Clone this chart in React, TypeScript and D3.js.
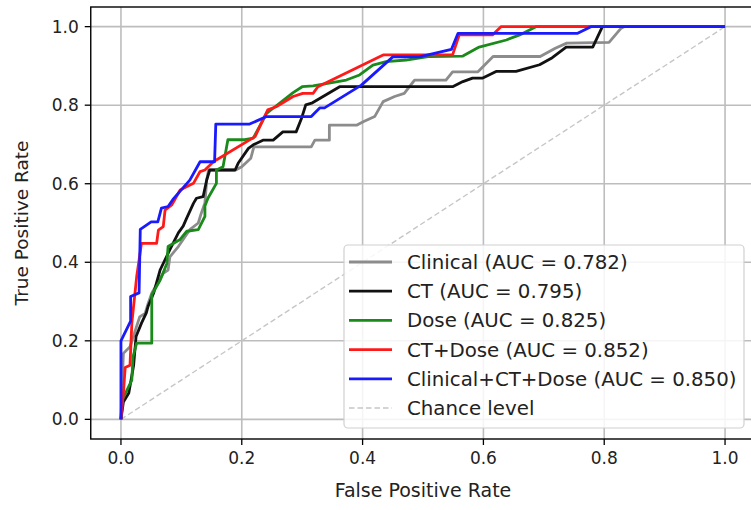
import React from 'react';
import * as d3 from 'd3';

// ROC curves
const clinicalFpr = [0, 0.002, 0.004, 0.015, 0.031, 0.040, 0.045, 0.051, 0.070, 0.078, 0.081, 0.095, 0.114, 0.128, 0.133, 0.139, 0.142, 0.145, 0.190, 0.200, 0.215, 0.220, 0.315, 0.321, 0.345, 0.345, 0.390, 0.401, 0.420, 0.434, 0.453, 0.469, 0.486, 0.538, 0.549, 0.591, 0.616, 0.694, 0.719, 0.738, 0.808, 0.828, 0.833, 1.0];
const clinicalTpr = [0, 0.09, 0.168, 0.185, 0.261, 0.270, 0.295, 0.321, 0.372, 0.380, 0.414, 0.440, 0.483, 0.500, 0.525, 0.551, 0.610, 0.635, 0.635, 0.643, 0.665, 0.694, 0.694, 0.711, 0.711, 0.749, 0.749, 0.758, 0.771, 0.809, 0.822, 0.830, 0.864, 0.864, 0.885, 0.885, 0.924, 0.924, 0.945, 0.958, 0.960, 0.996, 1.0, 1.0];

const ctFpr = [0, 0.004, 0.013, 0.021, 0.025, 0.034, 0.042, 0.045, 0.054, 0.065, 0.081, 0.095, 0.103, 0.109, 0.120, 0.125, 0.136, 0.142, 0.147, 0.189, 0.194, 0.211, 0.219, 0.235, 0.252, 0.268, 0.290, 0.299, 0.306, 0.317, 0.362, 0.549, 0.566, 0.582, 0.599, 0.621, 0.654, 0.693, 0.714, 0.737, 0.781, 0.797, 1.0];
const ctTpr = [0, 0.044, 0.067, 0.138, 0.211, 0.245, 0.271, 0.288, 0.321, 0.381, 0.432, 0.475, 0.492, 0.513, 0.550, 0.563, 0.567, 0.610, 0.635, 0.635, 0.652, 0.690, 0.699, 0.711, 0.711, 0.732, 0.732, 0.767, 0.801, 0.806, 0.847, 0.847, 0.860, 0.869, 0.869, 0.886, 0.886, 0.903, 0.921, 0.948, 0.948, 1.0, 1.0];

const doseFpr = [0, 0.002, 0.018, 0.020, 0.026, 0.051, 0.051, 0.065, 0.076, 0.078, 0.098, 0.109, 0.128, 0.139, 0.139, 0.144, 0.158, 0.158, 0.169, 0.177, 0.205, 0.219, 0.241, 0.255, 0.285, 0.300, 0.318, 0.373, 0.395, 0.417, 0.439, 0.472, 0.511, 0.566, 0.593, 0.638, 0.660, 0.687, 1.0];
const doseTpr = [0, 0.049, 0.100, 0.160, 0.194, 0.194, 0.317, 0.355, 0.397, 0.440, 0.458, 0.479, 0.483, 0.517, 0.543, 0.563, 0.601, 0.635, 0.643, 0.712, 0.712, 0.716, 0.779, 0.796, 0.832, 0.847, 0.849, 0.864, 0.877, 0.902, 0.911, 0.915, 0.924, 0.925, 0.948, 0.966, 0.979, 1.0, 1.0];

const ctDoseFpr = [0, 0.004, 0.007, 0.015, 0.018, 0.026, 0.034, 0.059, 0.062, 0.070, 0.073, 0.084, 0.098, 0.120, 0.131, 0.139, 0.153, 0.222, 0.243, 0.257, 0.285, 0.301, 0.318, 0.326, 0.434, 0.549, 0.560, 0.615, 0.629, 1.0];
const ctDoseTpr = [0, 0.066, 0.132, 0.138, 0.245, 0.363, 0.448, 0.448, 0.482, 0.491, 0.533, 0.546, 0.584, 0.601, 0.631, 0.635, 0.656, 0.720, 0.788, 0.796, 0.822, 0.830, 0.830, 0.847, 0.928, 0.928, 0.979, 0.979, 1.0, 1.0];

const allFpr = [0, 0, 0.016, 0.016, 0.030, 0.032, 0.050, 0.061, 0.067, 0.078, 0.086, 0.114, 0.131, 0.155, 0.157, 0.213, 0.241, 0.315, 0.329, 0.337, 0.398, 0.450, 0.494, 0.547, 0.558, 0.756, 0.778, 1.0];
const allTpr = [0, 0.20, 0.25, 0.313, 0.322, 0.484, 0.503, 0.503, 0.538, 0.542, 0.56, 0.609, 0.656, 0.656, 0.752, 0.752, 0.771, 0.771, 0.793, 0.793, 0.851, 0.923, 0.923, 0.942, 0.983, 0.983, 1.0, 1.0];

const seriesNames = ['Clinical', 'CT', 'Dose', 'CT+Dose', 'Clinical+CT+Dose'];
const seriesAuc = ['0.782', '0.795', '0.825', '0.852', '0.850'];
const seriesColors = ['#8c8c8c', '#111111', '#1a8a1a', '#ff1a1a', '#1a1aff'];
const seriesFpr = [clinicalFpr, ctFpr, doseFpr, ctDoseFpr, allFpr];
const seriesTpr = [clinicalTpr, ctTpr, doseTpr, ctDoseTpr, allTpr];

const ticks = [0, 0.2, 0.4, 0.6, 0.8, 1.0];

const W = 751;
const H = 510;
const FONT = '"DejaVu Sans", sans-serif';

export default function App() {
  const x = d3.scaleLinear().domain([-0.05, 1.05]).range([90.75, 755.25]);
  const y = d3.scaleLinear().domain([-0.05, 1.05]).range([439, 7]);

  const line = d3.line<[number, number]>()
    .x(d => x(d[0]))
    .y(d => y(d[1]));

  const x0 = x(-0.05);
  const x1 = x(1.05);
  const yTop = y(1.05);
  const yBot = y(-0.05);

  // legend layout
  const lgX = 344, lgY = 245, lgW = 400, lgH = 183;
  const rowY = (i: number) => 262 + i * 29.2;
  const legendRows = seriesNames.map((n, i) => ({
    label: `${n} (AUC = ${seriesAuc[i]})`,
    color: seriesColors[i],
  }));

  return (
    <div style={{ position: 'fixed', left: 0, top: 0, background: '#fff' }}>
      <svg width={W} height={H} style={{ display: 'block' }} fontFamily={FONT}>
        <rect width={W} height={H} fill="#fff" />
        {/* grid */}
        {ticks.map(t => (
          <g key={'g' + t}>
            <line x1={x(t)} x2={x(t)} y1={yTop} y2={yBot} stroke="#bdbdbd" strokeWidth={1.6} />
            <line x1={x0} x2={x1} y1={y(t)} y2={y(t)} stroke="#bdbdbd" strokeWidth={1.6} />
          </g>
        ))}
        {/* chance level */}
        <line x1={x(0)} y1={y(0)} x2={x(1)} y2={y(1)} stroke="#c6c6c6" strokeWidth={1.4} strokeDasharray="5.5,3" />
        {/* curves */}
        {seriesFpr.map((f, i) => (
          <path
            key={seriesNames[i]}
            d={line(f.map((v, j) => [v, seriesTpr[i][j]] as [number, number])) || ''}
            fill="none"
            stroke={seriesColors[i]}
            strokeWidth={2.8}
            strokeLinejoin="round"
          />
        ))}
        {/* spines */}
        <rect x={x0} y={yTop} width={x1 - x0} height={yBot - yTop} fill="none" stroke="#000" strokeWidth={1.4} />
        {/* x ticks */}
        {ticks.map(t => (
          <g key={'xt' + t}>
            <line x1={x(t)} x2={x(t)} y1={yBot} y2={yBot + 6} stroke="#000" strokeWidth={1.3} />
            <text x={x(t)} y={yBot + 25} textAnchor="middle" fontSize={17} fill="#222">{t.toFixed(1)}</text>
          </g>
        ))}
        {/* y ticks */}
        {ticks.map(t => (
          <g key={'yt' + t}>
            <line x1={x0 - 6} x2={x0} y1={y(t)} y2={y(t)} stroke="#000" strokeWidth={1.3} />
            <text x={x0 - 12} y={y(t)} dy="0.35em" textAnchor="end" fontSize={17} fill="#222">{t.toFixed(1)}</text>
          </g>
        ))}
        <text x={(x(0) + x(1)) / 2} y={497} textAnchor="middle" fontSize={19} fill="#222">False Positive Rate</text>
        <text transform={`translate(22,${(yTop + yBot) / 2}) rotate(-90)`} dy="0.35em" textAnchor="middle" fontSize={18.5} fill="#222">True Positive Rate</text>
        {/* legend */}
        <rect x={lgX} y={lgY} width={lgW} height={lgH} rx={4} fill="#fff" fillOpacity={0.85} stroke="#d0d0d0" strokeWidth={1.2} />
        {legendRows.map((r, i) => (
          <g key={r.label}>
            <line x1={349} x2={392} y1={rowY(i)} y2={rowY(i)} stroke={r.color} strokeWidth={2.8} />
            <text x={407} y={rowY(i)} dy="0.35em" fontSize={19.8} fill="#222">{r.label}</text>
          </g>
        ))}
        <line x1={349} x2={392} y1={rowY(5)} y2={rowY(5)} stroke="#c6c6c6" strokeWidth={1.4} strokeDasharray="5.5,3" />
        <text x={407} y={rowY(5)} dy="0.35em" fontSize={19.8} fill="#222">Chance level</text>
      </svg>
    </div>
  );
}
